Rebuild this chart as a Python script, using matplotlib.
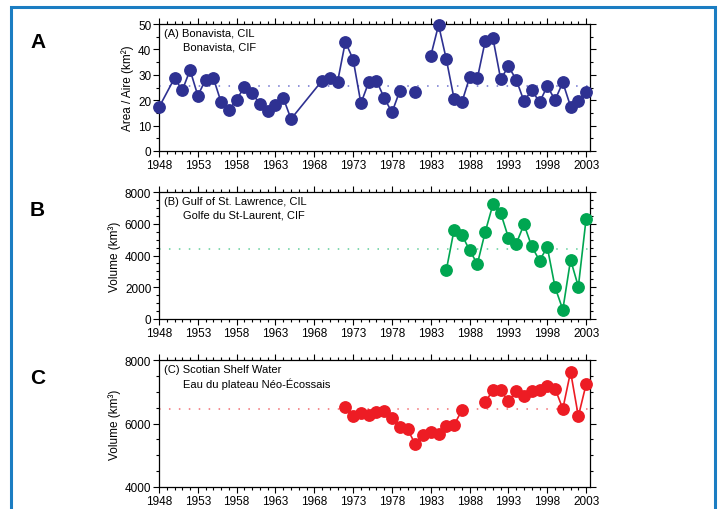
import numpy as np
import matplotlib
matplotlib.use("Agg")
import matplotlib.pyplot as plt
from matplotlib.ticker import MultipleLocator
from matplotlib.patches import Rectangle

plt.rcParams['font.family'] = ['Liberation Sans', 'DejaVu Sans']

# --- Data ---
nan = np.nan
years_a = [1948, 1950, 1951, 1952, 1953, 1954, 1955, 1956, 1957, 1958, 1959,
           1960, 1961, 1962, 1963, 1964, 1965, 1969, 1970, 1971, 1972, 1973,
           1974, 1975, 1976, 1977, 1978, 1979, 1980, 1981, 1982, 1983, 1984,
           1985, 1986, 1987, 1988, 1989, 1990, 1991, 1992, 1993, 1994, 1995,
           1996, 1997, 1998, 1999, 2000, 2001, 2002, 2003]
area_a = [17.2, 28.7, 23.9, 31.9, 21.8, 28.1, 28.7, 19.2, 16.1, 20.2, 25.3,
          22.7, 18.5, 15.7, 18.1, 20.9, 12.6, 27.7, 28.7, 27.3, 43.0, 36.0,
          18.8, 27.0, 27.7, 20.9, 15.2, 23.6, nan, 23.4, nan, 37.5, 49.6,
          36.1, 20.5, 19.2, 29.0, 28.7, 43.2, 44.4, 28.3, 33.3, 28.1, 19.6,
          24.0, 19.2, 25.5, 20.1, 27.0, 17.5, 19.8, 23.4]
mean_a = 25.7

years_b = list(range(1985, 2004))
vol_b = [3090, 5620, 5310, 4320, 3470, 5470, 7220, 6670, 5120, 4740, 5960,
         4570, 3680, 4530, 2000, 590, 3730, 2040, 6320]
mean_b = 4420

years_c = list(range(1972, 2004))
vol_c = [6515, 6249, 6324, 6271, 6355, 6408, 6164, 5899, 5825, 5347, 5645,
         5719, 5666, 5910, 5952, 6419, nan, nan, 6674, 7045, 7045, 6695,
         7013, 6854, 7024, 7066, 7183, 7098, 6462, 7629, 6228, 7236]
mean_c = 6451

panels = [
    dict(letter="A", x=years_a, y=area_a, mean=mean_a, color="#2e3192",
         mcolor="#6e72d0", ylim=(0, 50), major=10, minor=5,
         ylabel="Area / Aire (km²)",
         text=("(A) Bonavista, CIL", "Bonavista, CIF")),
    dict(letter="B", x=years_b, y=vol_b, mean=mean_b, color="#00a651",
         mcolor="#5fd09a", ylim=(0, 8000), major=2000, minor=500,
         ylabel="Volume (km³)",
         text=("(B) Gulf of St. Lawrence, CIL", "Golfe du St-Laurent, CIF")),
    dict(letter="C", x=years_c, y=vol_c, mean=mean_c, color="#ed1c24",
         mcolor="#f26b70", ylim=(4000, 8000), major=2000, minor=500,
         ylabel="Volume (km³)",
         text=("(C) Scotian Shelf Water", "Eau du plateau Néo-Écossais")),
]

fig = plt.figure(figsize=(7.22, 5.10), dpi=100)

# blue frame around the figure
fig.patches.append(Rectangle((11 / 722, -0.05), (715 - 11) / 722, 1.05 - 8 / 510,
                             transform=fig.transFigure, fill=False,
                             edgecolor="#1b7dc2", linewidth=2.2))

bottoms = [1 - 152 / 510, 1 - 320 / 510, 1 - 488 / 510]
left, width, height = 159 / 722, (590 - 159) / 722, 127 / 510

for p, b in zip(panels, bottoms):
    ax = fig.add_axes([left, b, width, height])
    ax.axhline(p["mean"], color=p["mcolor"], lw=1.1, ls=(0, (1, 5.5)), zorder=1)
    ax.plot(p["x"], p["y"], color=p["color"], lw=1.2, marker="o", ms=8.2,
            mec=p["color"], mfc=p["color"], zorder=3, clip_on=False)
    ax.set_xlim(1948, 2003.5)
    ax.set_ylim(*p["ylim"])
    ax.set_xticks(range(1948, 2004, 5))
    ax.xaxis.set_minor_locator(MultipleLocator(1))
    ax.yaxis.set_major_locator(MultipleLocator(p["major"]))
    ax.yaxis.set_minor_locator(MultipleLocator(p["minor"]))
    ax.tick_params(which="both", direction="out", top=True, right=True,
                   labelsize=8.5, pad=1.5, width=0.8)
    ax.tick_params(which="major", length=4)
    ax.tick_params(which="minor", length=2.5)
    for s in ax.spines.values():
        s.set_linewidth(0.9)
    ax.set_ylabel(p["ylabel"], fontsize=8.5, labelpad=3)
    ax.text(0.012, 0.965, p["text"][0], transform=ax.transAxes, fontsize=8,
            va="top", ha="left")
    ax.text(0.056, 0.86, p["text"][1], transform=ax.transAxes, fontsize=8,
            va="top", ha="left")
    fig.text(30 / 722, b + height - 8 / 510, p["letter"], fontsize=15,
             fontweight="bold", va="top", ha="left")

fig.savefig("out.png", dpi=100)
